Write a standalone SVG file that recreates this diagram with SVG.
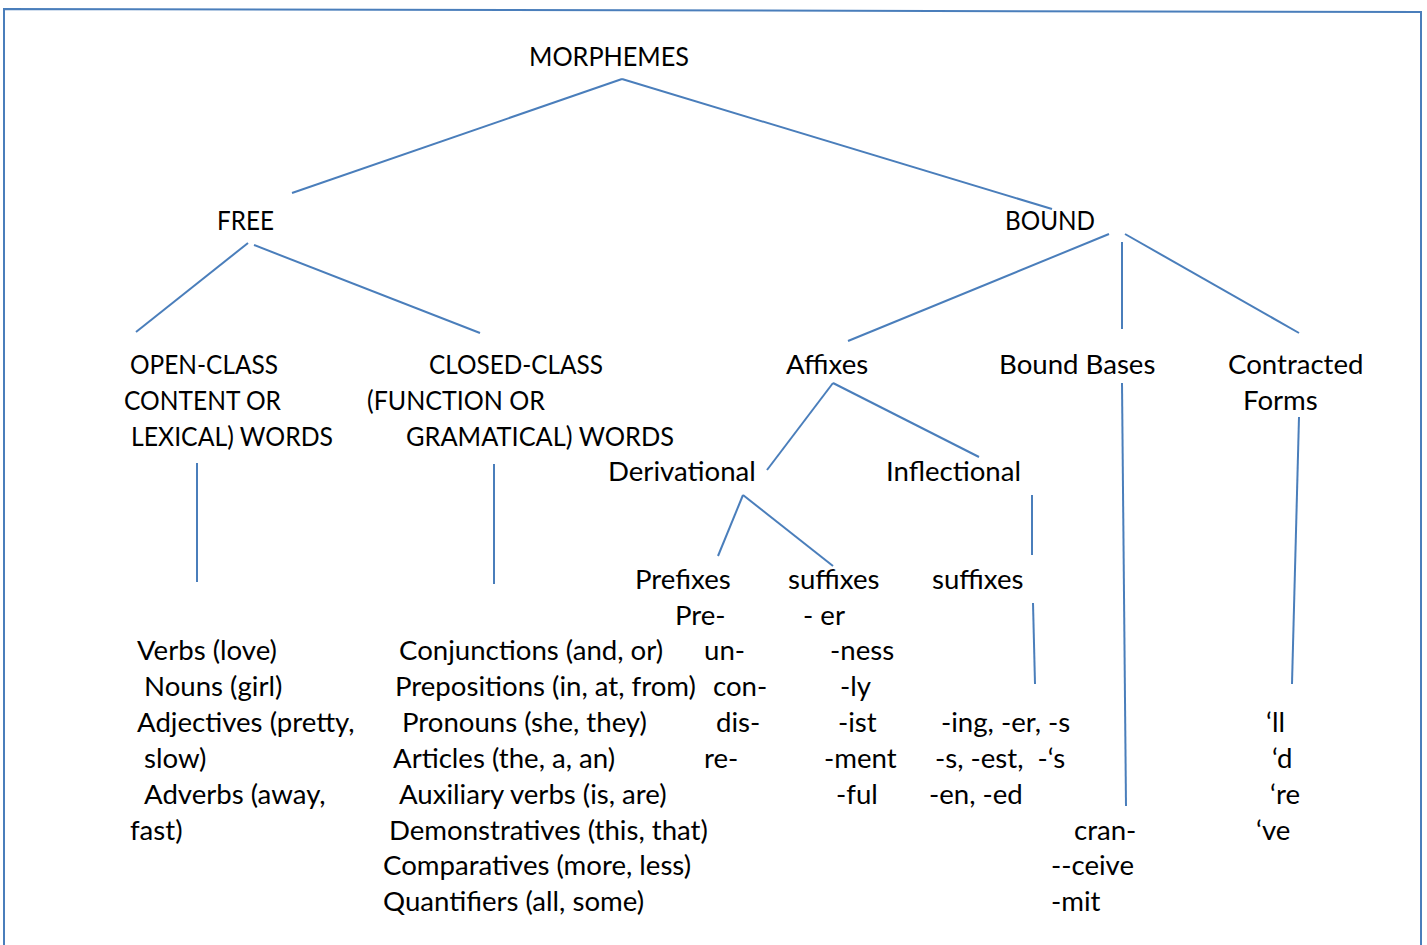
<svg xmlns="http://www.w3.org/2000/svg" width="1427" height="945" viewBox="0 0 1427 945">
<style>
text{font-family:Lato,"Liberation Sans",sans-serif;font-size:27.6px;fill:#000;white-space:pre}
.ln{stroke:#4a7ebb;stroke-width:2;fill:none}
</style>
<rect width="1427" height="945" fill="#fff"/>
<g id="frame"><path class="ln" d="M4 960 L4 9 L1421 12 L1421 960"/></g>
<g id="connectors">
<line class="ln" x1="622" y1="79" x2="292" y2="193"/>
<line class="ln" x1="622" y1="79" x2="1052" y2="209"/>
<line class="ln" x1="248" y1="243" x2="136" y2="332"/>
<line class="ln" x1="254" y1="245" x2="480" y2="333"/>
<line class="ln" x1="1109" y1="234" x2="848" y2="341"/>
<line class="ln" x1="1122" y1="242" x2="1122" y2="329"/>
<line class="ln" x1="1125" y1="234" x2="1299" y2="333"/>
<line class="ln" x1="197" y1="463" x2="197" y2="582"/>
<line class="ln" x1="494" y1="464" x2="494" y2="584"/>
<line class="ln" x1="833" y1="383" x2="767" y2="470"/>
<line class="ln" x1="833" y1="383" x2="979" y2="457"/>
<line class="ln" x1="743" y1="495" x2="718" y2="556"/>
<line class="ln" x1="743" y1="495" x2="833" y2="566"/>
<line class="ln" x1="1032" y1="495" x2="1032" y2="555"/>
<line class="ln" x1="1033" y1="603" x2="1035" y2="684"/>
<line class="ln" x1="1122" y1="383" x2="1126" y2="806"/>
<line class="ln" x1="1299" y1="417" x2="1292" y2="684"/>
</g>
<g id="morphemes"><text x="529" y="66" textLength="160" lengthAdjust="spacingAndGlyphs">MORPHEMES</text></g>
<g id="free"><text x="217" y="230" textLength="57" lengthAdjust="spacingAndGlyphs">FREE</text></g>
<g id="bound"><text x="1005" y="230" textLength="90" lengthAdjust="spacingAndGlyphs">BOUND</text></g>
<g id="open-class"><text x="130" y="374" textLength="148" lengthAdjust="spacingAndGlyphs">OPEN-CLASS</text><text x="124" y="410" textLength="157" lengthAdjust="spacingAndGlyphs">CONTENT OR</text><text x="131" y="446" textLength="202" lengthAdjust="spacingAndGlyphs">LEXICAL) WORDS</text></g>
<g id="closed-class"><text x="429" y="374" textLength="174" lengthAdjust="spacingAndGlyphs">CLOSED-CLASS</text><text x="367" y="410" textLength="178" lengthAdjust="spacingAndGlyphs">(FUNCTION OR</text><text x="406" y="446" textLength="268" lengthAdjust="spacingAndGlyphs">GRAMATICAL) WORDS</text></g>
<g id="affixes"><text x="786" y="374">Affixes</text></g>
<g id="bound-bases"><text x="999" y="374">Bound Bases</text></g>
<g id="contracted"><text x="1228" y="374">Contracted</text><text x="1243" y="410">Forms</text></g>
<g id="derivational"><text x="608" y="481">Derivational</text></g>
<g id="inflectional"><text x="886" y="481">Inflectional</text></g>
<g id="prefixes"><text x="635" y="589">Prefixes</text>
<text x="675" y="625">Pre-</text><text x="704" y="660">un-</text><text x="713" y="696">con-</text><text x="716" y="732">dis-</text><text x="704" y="768">re-</text></g>
<g id="der-suffixes"><text x="788" y="589">suffixes</text>
<text x="803" y="625">- er</text><text x="830" y="660">-ness</text><text x="840" y="696">-ly</text><text x="838" y="732">-ist</text><text x="824" y="768">-ment</text><text x="836" y="804">-ful</text></g>
<g id="infl-suffixes"><text x="932" y="589">suffixes</text>
<text x="941" y="732">-ing, -er, -s</text><text x="935" y="768">-s, -est,  -‘s</text><text x="929" y="804">-en, -ed</text></g>
<g id="open-list"><text x="137" y="660">Verbs (love)</text><text x="144" y="696">Nouns (girl)</text><text x="137" y="732">Adjectives (pretty,</text><text x="144" y="768">slow)</text><text x="144" y="804">Adverbs (away,</text><text x="130" y="840">fast)</text></g>
<g id="closed-list"><text x="399" y="660">Conjunctions (and, or)</text><text x="395" y="696">Prepositions (in, at, from)</text><text x="402" y="732">Pronouns (she, they)</text><text x="393" y="768">Articles (the, a, an)</text><text x="399" y="804">Auxiliary verbs (is, are)</text><text x="389" y="840">Demonstratives (this, that)</text><text x="383" y="875">Comparatives (more, less)</text><text x="383" y="911">Quantifiers (all, some)</text></g>
<g id="bound-bases-list"><text x="1074" y="840">cran-</text><text x="1051" y="875">--ceive</text><text x="1051" y="911">-mit</text></g>
<g id="contracted-list"><text x="1266" y="732">‘ll</text><text x="1272" y="768">‘d</text><text x="1270" y="804">‘re</text><text x="1256" y="840">‘ve</text></g>
</svg>
